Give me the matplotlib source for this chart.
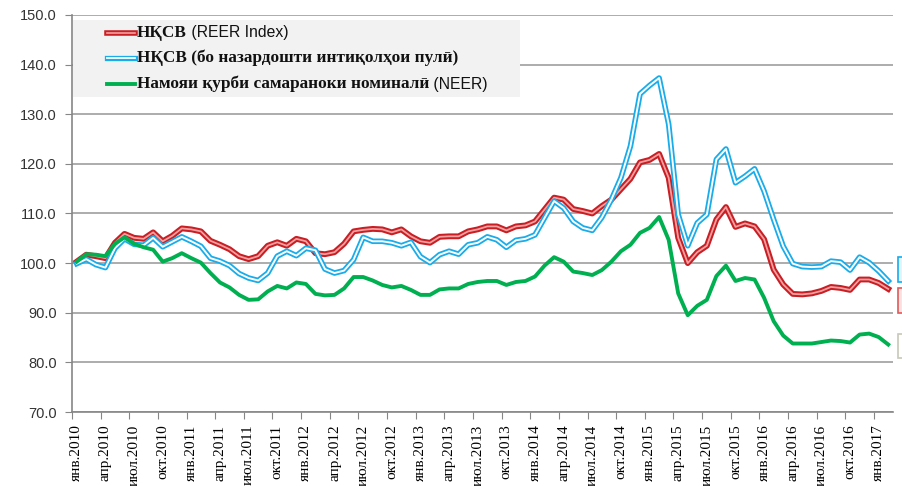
#!/usr/bin/env python
# -*- coding: utf-8 -*-

import numpy as np
import matplotlib.pyplot as plt
from matplotlib.lines import Line2D
from matplotlib.patches import Rectangle
from matplotlib.text import Annotation

# monthly categories, Jan 2010 .. Feb 2017
month_names = ['янв', 'фев', 'мар', 'апр', 'май', 'июн',
               'июл', 'авг', 'сен', 'окт', 'ноя', 'дек']
periods = [f'{m}.{y}' for y in range(2010, 2018) for m in month_names][:86]

series_names = ['НҚСВ (REER Index)',
                'НҚСВ (бо назардошти интиқолҳои пулӣ)',
                'Намояи қурби самараноки номиналӣ (NEER)']

reer = [100.3, 101.7, 101.4, 101.0, 104.1, 105.9, 105.1, 104.9, 106.2, 104.4,
        105.5, 107.0, 106.8, 106.4, 104.5, 103.7, 102.8, 101.4, 100.8, 101.4,
        103.5, 104.2, 103.5, 104.9, 104.4, 102.0, 101.8, 102.2, 103.9, 106.4,
        106.7, 106.9, 106.8, 106.2, 106.8, 105.4, 104.4, 104.1, 105.3, 105.4,
        105.4, 106.4, 106.8, 107.4, 107.4, 106.6, 107.4, 107.6, 108.4, 110.8,
        113.2, 112.8, 110.9, 110.5, 110.0, 111.5, 112.8, 114.9, 117.0, 120.3,
        120.8, 122.0, 117.2, 105.1, 100.0, 102.2, 103.5, 108.8, 111.3, 107.3,
        108.0, 107.4, 104.8, 98.7, 95.7, 93.8, 93.7, 93.9, 94.4, 95.2,
        95.0, 94.6, 96.7, 96.7, 96.0, 94.8]

reer_remit = [99.9, 100.8, 99.7, 99.1, 103.0, 104.9, 103.8, 103.6, 105.1, 103.3,
              104.3, 105.3, 104.4, 103.4, 101.0, 100.4, 99.5, 97.9, 97.0, 96.5,
              98.0, 101.4, 102.4, 101.5, 103.0, 102.6, 98.8, 98.0, 98.5, 100.7,
              105.2, 104.4, 104.4, 104.1, 103.5, 104.2, 101.3, 100.1, 101.7, 102.4,
              101.8, 103.7, 104.1, 105.3, 104.7, 103.2, 104.6, 104.9, 105.7, 109.1,
              112.5, 111.1, 108.4, 107.1, 106.6, 109.2, 112.8, 117.2, 123.6, 134.1,
              135.8, 137.3, 128.0, 109.8, 103.5, 108.1, 109.8, 120.9, 123.0, 116.2,
              117.5, 119.0, 114.5, 108.8, 103.4, 99.9, 99.3, 99.2, 99.3, 100.4,
              100.2, 98.6, 101.2, 100.1, 98.4, 96.4]

neer = [100.3, 101.8, 101.7, 101.4, 103.9, 105.2, 103.9, 103.2, 102.7, 100.3,
        101.0, 102.0, 101.0, 100.1, 98.0, 96.1, 95.1, 93.6, 92.6, 92.7,
        94.3, 95.4, 94.9, 96.1, 95.8, 93.8, 93.5, 93.6, 94.9, 97.2,
        97.2, 96.5, 95.6, 95.1, 95.4, 94.6, 93.6, 93.6, 94.7, 94.9,
        94.9, 95.8, 96.2, 96.4, 96.4, 95.6, 96.2, 96.4, 97.3, 99.5,
        101.2, 100.3, 98.3, 98.0, 97.6, 98.6, 100.3, 102.4, 103.7, 106.1,
        107.1, 109.3, 104.7, 93.9, 89.5, 91.4, 92.6, 97.4, 99.5, 96.4,
        97.0, 96.7, 93.0, 88.3, 85.4, 83.8, 83.8, 83.8, 84.1, 84.4,
        84.3, 84.0, 85.6, 85.8, 85.1, 83.6]

W, H = 903, 486
SERIF = ['Liberation Serif', 'DejaVu Serif']
SANS = ['Liberation Sans', 'DejaVu Sans']

RED_OUT, RED_IN = '#c81e24', '#f3a0a0'
BLUE_OUT, BLUE_IN = '#18acea', 'white'
GREEN = '#00b050'


def fx(px):
    return px / W


def fy(py):
    return 1 - py / H


fig = plt.figure(figsize=(W / 100, H / 100), dpi=100)
ax = fig.add_axes([fx(72), fy(412), (893 - 72) / W, (412 - 15) / H])

x = np.arange(len(periods))

# double lines: dark outline with a lighter core
ax.plot(x, reer, color=RED_OUT, lw=4.2, solid_joinstyle='round', zorder=3)
ax.plot(x, reer, color=RED_IN, lw=1.3, solid_joinstyle='round', zorder=3)
ax.plot(x, reer_remit, color=BLUE_OUT, lw=4.0, solid_joinstyle='round', zorder=4)
ax.plot(x, reer_remit, color=BLUE_IN, lw=1.4, solid_joinstyle='round', zorder=4)
ax.plot(x, neer, color=GREEN, lw=2.8, solid_joinstyle='round', zorder=5)

ax.set_xlim(-0.5, len(periods) - 0.5)
ax.set_ylim(70, 150)
ax.set_yticks(np.arange(70, 151, 10))
ax.set_yticklabels([f'{v:.1f}' for v in np.arange(70, 151, 10)],
                   family=SANS, fontsize=10.5, color='#333333')

ax.set_xticks(np.arange(-0.5, len(periods), 3))
ax.set_xticklabels([])
ax.set_xticks(x[::3], minor=True)
ax.set_xticklabels(periods[::3], minor=True, rotation=90,
                   family=SERIF, fontsize=11, va='top', ha='center')
ax.tick_params(axis='x', which='minor', length=0, pad=9)
ax.tick_params(axis='x', which='major', length=5, color='#868686')
ax.tick_params(axis='y', length=5, color='#868686', pad=6)

ax.grid(axis='y', color='#a6a6a6', lw=1.3)
ax.set_axisbelow(True)
for side in ['top', 'right']:
    ax.spines[side].set_visible(False)
for side in ['left', 'bottom']:
    ax.spines[side].set_color('#868686')
    ax.spines[side].set_linewidth(1.2)

# legend panel drawn by hand (mixed fonts per entry)
fig.add_artist(Rectangle((fx(73), fy(97)), (520 - 73) / W, (97 - 20) / H,
                         transform=fig.transFigure, fc='#f2f2f2', ec='none'))

rows = [(33, RED_OUT, 4.0, RED_IN, 1.2, 'НҚСВ', ' (REER Index)'),
        (58, BLUE_OUT, 3.8, BLUE_IN, 1.3, 'НҚСВ (бо назардошти интиқолҳои пулӣ)', ''),
        (84, GREEN, 2.8, None, 0, 'Намояи қурби самараноки номиналӣ', ' (NEER)')]
for py, c_out, lw_out, c_in, lw_in, bold_txt, sans_txt in rows:
    fig.add_artist(Line2D([fx(107), fx(135)], [fy(py), fy(py)], color=c_out,
                          lw=lw_out, transform=fig.transFigure))
    if c_in:
        fig.add_artist(Line2D([fx(107), fx(135)], [fy(py), fy(py)], color=c_in,
                              lw=lw_in, transform=fig.transFigure))
    t = fig.text(fx(137), fy(py), bold_txt, family=SERIF, fontweight='bold',
                 fontsize=12.4, va='center', ha='left', color='#111111')
    if sans_txt:
        fig.add_artist(Annotation(sans_txt, xy=(1, 0.5), xycoords=t,
                                  va='center', ha='left', family=SANS,
                                  fontsize=11.3, color='#111111'))

# clipped data-label boxes at the right edge
for y0, y1, fc, ec in [(257, 282, '#e2f4fc', BLUE_OUT),
                       (288, 313, '#fbe3e3', '#e05a5a'),
                       (334, 358, 'white', '#c8c8b8')]:
    fig.add_artist(Rectangle((fx(898), fy(y1)), 20 / W, (y1 - y0) / H,
                             transform=fig.transFigure, fc=fc, ec=ec, lw=1.2))

fig.savefig('out.png', dpi=100)
